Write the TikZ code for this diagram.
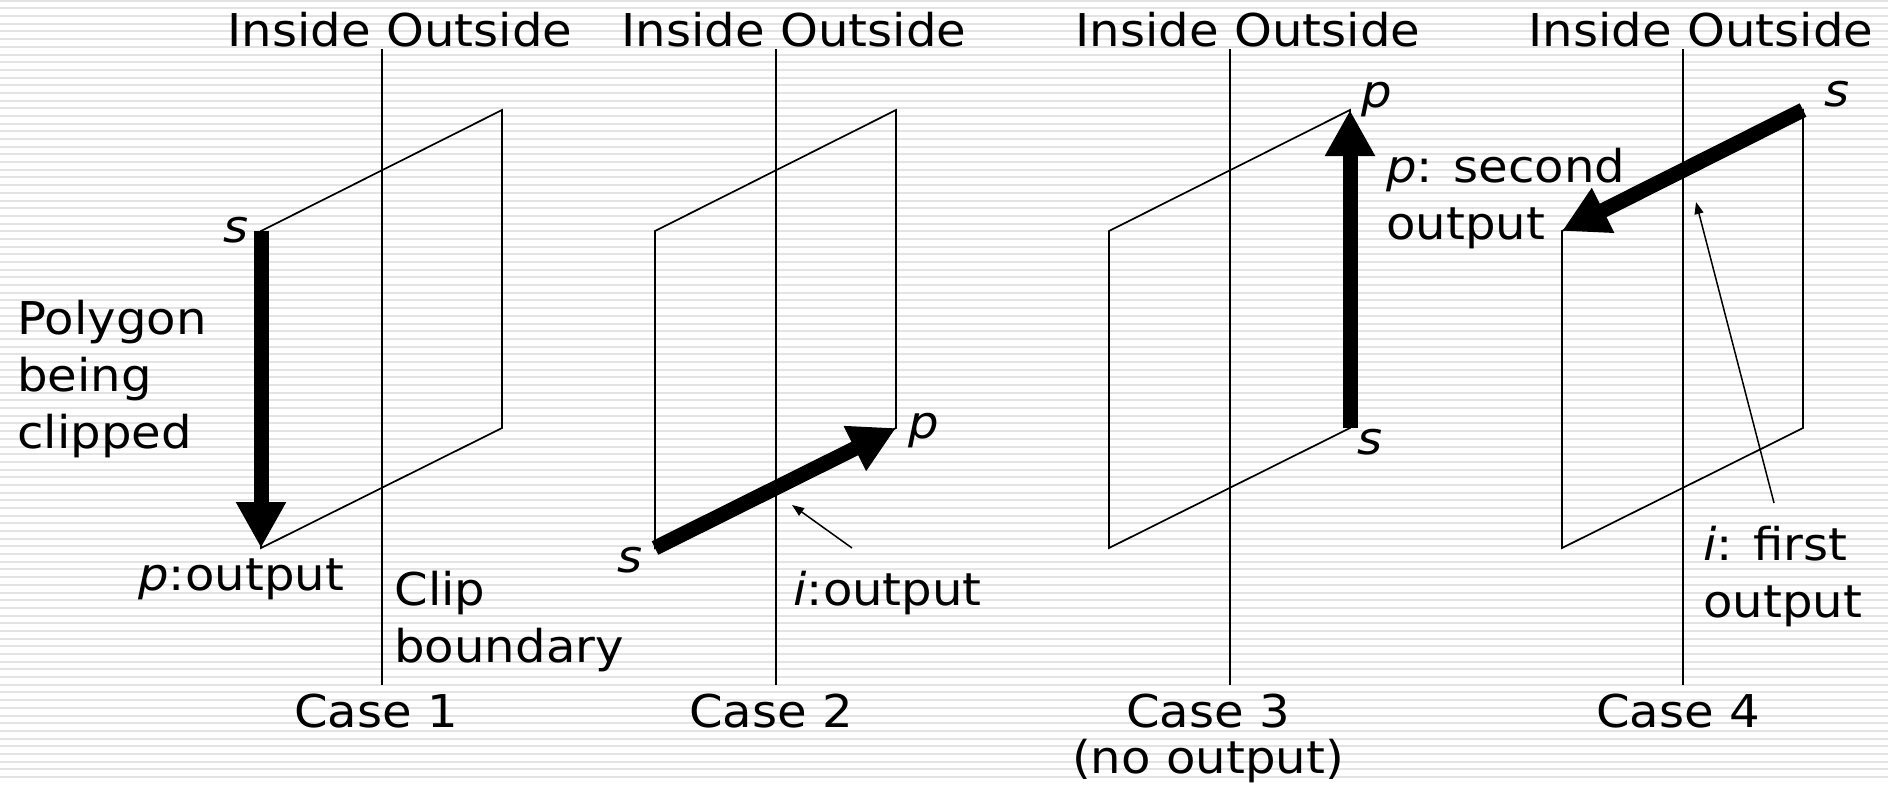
\documentclass[tikz,border=0pt]{standalone}
\usepackage{fontspec}
\setmainfont{DejaVu Sans}[FakeStretch=1.065]
\usetikzlibrary{arrows.meta}
\newcommand\figfont{\fontsize{22.6}{28.5}\selectfont}
\begin{document}
\begin{tikzpicture}[x=0.5pt,y=-0.5pt,
  txt/.style={inner sep=0pt, font=\figfont},
  poly/.style={line width=0.85pt, line join=miter},
  clipline/.style={line width=0.7pt},
  bigarrow/.style={line width=7.5pt, line cap=butt, -{Triangle[length=23pt,width=23.5pt]}},
  thinarrow/.style={line width=0.75pt, -{Triangle[length=6pt,width=4.5pt]}},
  stripe/.style={line width=1pt, color=black!11}
]
\useasboundingbox (0,0) rectangle (1888,784);
\fill[white] (0,0) rectangle (1888,784);
\foreach \k in {0,...,101} {
  \draw[stripe] (0,0.7+7.686*\k) -- (1888,0.7+7.686*\k);
}

% geometry of the four cases
\foreach \n/\L in {1/261,2/655,3/1109,4/1562} {
  \coordinate (tl\n) at (\L,231);
  \coordinate (tr\n) at (\L+241,110);
  \coordinate (br\n) at (\L+241,428);
  \coordinate (bl\n) at (\L,548);
  \coordinate (ct\n) at (\L+121,49);
  \coordinate (cb\n) at (\L+121,685);
  \draw[poly] (tl\n) -- (tr\n) -- (br\n) -- (bl\n) -- cycle;
  \draw[clipline] (ct\n) -- (cb\n);
  \node[txt, anchor=base] (io\n) at (\L+139,46) {Inside Outside};
}

% thick edges being processed
\draw[bigarrow] (tl1) -- (bl1);
\draw[bigarrow] (bl2) -- (br2);
\draw[bigarrow] (br3) -- (tr3);
\draw[bigarrow] (tr4) -- (tl4);

% case 1 labels
\node[txt, anchor=base east] (s1) at (249,242) {\textit{s}};
\node[txt, anchor=base west] (p1) at (138,590) {\textit{p}:output};
\node[txt, anchor=base west] (poly) at (17,334) {\begin{tabular}[t]{@{}l@{}}Polygon\\being\\clipped\end{tabular}};
\node[txt, anchor=base west] (clipb) at (394,605) {\begin{tabular}[t]{@{}l@{}}Clip\\boundary\end{tabular}};
\node[txt, anchor=base] (case1) at (376,727) {Case 1};

% case 2 labels
\node[txt, anchor=base west] (s2) at (617,572) {\textit{s}};
\node[txt, anchor=base west] (p2) at (908,438) {\textit{p}};
\node[txt, anchor=base west] (i2) at (793,605) {\textit{i}:output};
\coordinate (i2from) at (852,548);
\coordinate (i2to) at (792,505);
\draw[thinarrow] (i2from) -- (i2to);
\node[txt, anchor=base] (case2) at (771,727) {Case 2};

% case 3 labels
\node[txt, anchor=base west] (p3) at (1361,107) {\textit{p}};
\node[txt, anchor=base west] (s3) at (1357,454) {\textit{s}};
\node[txt, anchor=base west] (p3out) at (1386,182) {\begin{tabular}[t]{@{}l@{}}\textit{p}: second\\output\end{tabular}};
\node[txt, anchor=base] (case3) at (1208,727) {\begin{tabular}[t]{@{}c@{}}Case 3\\[-5.5pt](no output)\end{tabular}};

% case 4 labels
\node[txt, anchor=base west] (s4) at (1824,106) {\textit{s}};
\node[txt, anchor=base west] (i4) at (1703,560) {\begin{tabular}[t]{@{}l@{}}\textit{i}: first\\output\end{tabular}};
\coordinate (i4from) at (1774,503);
\coordinate (i4to) at (1696,202);
\draw[thinarrow] (i4from) -- (i4to);
\node[txt, anchor=base] (case4) at (1678,727) {Case 4};
\end{tikzpicture}
\end{document}
